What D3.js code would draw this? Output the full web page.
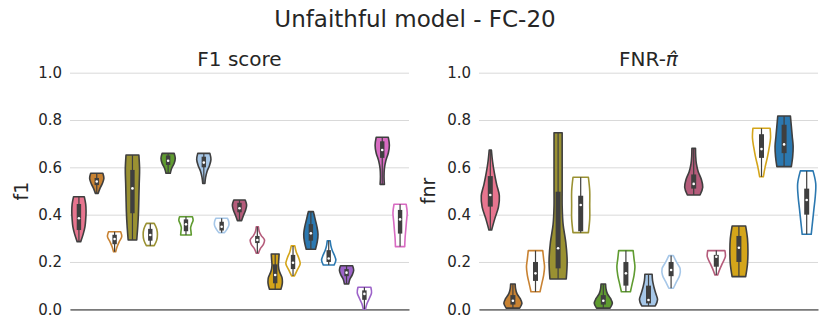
<!DOCTYPE html>
<html>
<head>
<meta charset="utf-8">
<script src="https://cdn.jsdelivr.net/npm/d3@7"></script>
<style>
  html, body { margin: 0; padding: 0; background: #ffffff; }
  svg { display: block; font-family: "DejaVu Sans", sans-serif; }
</style>
</head>
<body>
<svg id="chart" width="830" height="332"></svg>
<script>
// ---------------- DATA ----------------
const yTicks = [0.0, 0.2, 0.4, 0.6, 0.8, 1.0];

const paletteNames = ["pink","orange","olive","green","lightblue","rose","gold","blue","purple","magenta"];
const paletteColors = ["#e7758f","#c88232","#9a9132","#5f9b30","#a6c7e8","#b55c7b","#d4a51a","#2b78b0","#9d63c9","#d86bc2"];

// F1 panel
const f1Names   = ["m01","m02","m03","m04","m05","m06","m07","m08","m09","m10","m11","m12","m13","m14","m15","m16","m17","m18","m19"];
const f1Colors  = ["pink","orange","orange","olive","olive","green","green","lightblue","lightblue","rose","rose","gold","gold","blue","blue","purple","purple","magenta","magenta"];
const f1Filled  = [1,1,0,1,0,1,0,1,0,1,0,1,0,1,0,1,0,1,0];
const f1Min     = [0.286,0.490,0.243,0.293,0.269,0.575,0.314,0.532,0.324,0.375,0.237,0.085,0.141,0.254,0.187,0.107,0.000,0.528,0.265];
const f1Q1      = [0.335,0.525,0.275,0.406,0.290,0.610,0.330,0.600,0.333,0.410,0.280,0.110,0.170,0.290,0.200,0.140,0.040,0.640,0.320];
const f1Median  = [0.385,0.540,0.297,0.511,0.314,0.628,0.359,0.620,0.349,0.427,0.293,0.145,0.197,0.321,0.215,0.155,0.065,0.673,0.380];
const f1Q3      = [0.445,0.555,0.315,0.589,0.340,0.650,0.380,0.645,0.370,0.450,0.310,0.190,0.230,0.360,0.250,0.170,0.080,0.710,0.420];
const f1Max     = [0.476,0.575,0.328,0.652,0.363,0.659,0.391,0.659,0.385,0.462,0.349,0.234,0.268,0.413,0.290,0.184,0.093,0.727,0.444];
// relative half-widths from the bottom (min) to the top (max) of each violin
const f1Shapes  = [
  [0.25,0.6,0.85,0.95,1.0,0.95,0.75],
  [0.2,0.45,0.8,1.0,0.85],
  [0.15,0.35,0.65,1.0,0.85],
  [0.6,0.75,0.85,0.9,0.95,1.0,0.9],
  [0.55,0.9,1.0,0.9,0.55],
  [0.3,0.5,0.85,1.0,0.85],
  [0.75,0.7,0.65,0.8,1.0,0.9],
  [0.15,0.25,0.45,0.8,1.0,0.85],
  [0.4,0.75,1.0,1.0,0.8],
  [0.3,0.55,0.85,1.0,0.8],
  [0.15,0.4,0.85,1.0,0.55,0.25,0.15],
  [0.8,1.0,0.95,0.6,0.45,0.5,0.55],
  [0.2,0.6,1.0,0.8,0.45,0.25],
  [0.65,0.9,1.0,0.85,0.6,0.35],
  [0.75,1.0,0.8,0.5,0.3,0.2],
  [0.3,0.45,0.8,1.0,0.85],
  [0.15,0.35,0.7,1.0,0.9],
  [0.3,0.25,0.3,0.5,0.85,1.0,0.85],
  [0.65,0.7,0.8,0.9,1.0,0.85]
];

// FNR panel
const fnrNames  = ["m01","m02","m03","m04","m05","m06","m07","m08","m09","m10","m11","m12","m13","m14","m15"];
const fnrColors = ["pink","orange","orange","olive","olive","green","green","lightblue","lightblue","rose","rose","gold","gold","blue","blue"];
const fnrFilled = [1,1,0,1,0,1,0,1,0,1,0,1,0,1,0];
const fnrMin    = [0.335,0.005,0.074,0.128,0.324,0.005,0.074,0.014,0.089,0.483,0.145,0.138,0.560,0.603,0.317];
const fnrQ1     = [0.434,0.020,0.120,0.173,0.330,0.020,0.100,0.025,0.140,0.510,0.180,0.200,0.640,0.660,0.400];
const fnrMedian = [0.483,0.036,0.152,0.258,0.441,0.036,0.152,0.039,0.166,0.530,0.222,0.260,0.677,0.697,0.462];
const fnrQ3     = [0.563,0.060,0.200,0.497,0.480,0.060,0.200,0.100,0.200,0.570,0.230,0.310,0.740,0.780,0.510];
const fnrMax    = [0.673,0.107,0.248,0.746,0.558,0.107,0.248,0.148,0.227,0.680,0.248,0.352,0.765,0.817,0.585];
const fnrShapes = [
  [0.15,0.5,0.9,1.0,0.7,0.45,0.25,0.12],
  [0.75,1.0,0.8,0.45,0.3,0.25],
  [0.5,0.7,0.9,1.0,0.9,0.8],
  [0.9,1.0,0.85,0.55,0.45,0.45,0.45,0.45,0.45],
  [0.85,1.0,1.0,1.0,0.85],
  [0.75,1.0,0.8,0.45,0.3,0.25],
  [0.5,0.7,0.9,1.0,0.9,0.8],
  [0.75,1.0,0.8,0.6,0.45,0.4],
  [0.25,0.6,0.95,1.0,0.6,0.25],
  [0.7,1.0,0.85,0.5,0.3,0.22,0.2],
  [0.15,0.4,0.7,1.0,0.95],
  [0.75,0.95,1.0,0.95,0.75],
  [0.2,0.4,0.65,0.85,1.0,0.95],
  [0.8,0.95,1.0,0.9,0.8,0.7],
  [0.5,0.65,0.8,0.95,1.0,0.7]
];

// ---------------- DRAW ----------------
const svg = d3.select("#chart");
const textColor = "#262626";
const darkLine = "#3f3f3f";
const colorScale = d3.scaleOrdinal().domain(paletteNames).range(paletteColors);

svg.append("rect").attr("width", 830).attr("height", 332).attr("fill", "#ffffff");

svg.append("text")
  .attr("x", 415).attr("y", 27)
  .attr("text-anchor", "middle")
  .attr("font-size", 23).attr("fill", textColor)
  .text("Unfaithful model - FC-20");

const yScale = d3.scaleLinear().domain([0, 1]).range([309.3, 72.7]);

function drawPanel(cfg) {
  const g = svg.append("g");
  const x = d3.scaleBand().domain(cfg.names).range(cfg.xRange).paddingInner(0).paddingOuter(0);
  const left = cfg.xRange[0], right = cfg.xRange[1];

  // grid + y tick labels
  const yAxis = d3.axisLeft(yScale)
    .tickValues(yTicks)
    .tickFormat(d3.format(".1f"))
    .tickSize(-(right - left))
    .tickPadding(8);
  const ya = g.append("g").attr("transform", `translate(${left},0)`).call(yAxis);
  ya.select(".domain").remove();
  ya.selectAll(".tick line").attr("stroke", "#d9d9d9").attr("stroke-width", 1);
  ya.selectAll(".tick text").attr("fill", textColor).attr("font-size", 15)
    .attr("font-family", "DejaVu Sans, sans-serif");

  // bottom axis line
  const xa = g.append("g").attr("transform", `translate(0,${yScale(0)})`)
    .call(d3.axisBottom(x).tickSize(0).tickSizeOuter(0).tickFormat(""));
  xa.select(".domain").attr("stroke", "#7a7a7a").attr("stroke-width", 1.7);
  xa.selectAll(".tick").remove();

  // panel title
  const t = g.append("text")
    .attr("x", (left + right) / 2).attr("y", 66)
    .attr("text-anchor", "middle")
    .attr("font-size", 20).attr("fill", textColor);
  cfg.title(t);

  // y label
  g.append("text")
    .attr("transform", `translate(${cfg.yLabelX},${yScale(0.5)}) rotate(-90)`)
    .attr("text-anchor", "middle")
    .attr("font-size", 19).attr("fill", textColor)
    .text(cfg.yLabel);

  const halfMax = x.bandwidth() * 0.4;
  const boxHalf = cfg.boxHalf;

  cfg.names.forEach((name, i) => {
    const cx = x(name) + x.bandwidth() / 2;
    const mn = cfg.min[i], mx = cfg.max[i];
    const shape = cfg.shapes[i];
    const pts = shape.map((w, k) => ({ v: mn + (mx - mn) * k / (shape.length - 1), w }));
    const area = d3.area()
      .y(d => yScale(d.v))
      .x0(d => cx - d.w * halfMax)
      .x1(d => cx + d.w * halfMax)
      .curve(d3.curveCatmullRom.alpha(0.5));
    const col = colorScale(cfg.colors[i]);
    const filled = cfg.filled[i] === 1;
    g.append("path")
      .attr("d", area(pts))
      .attr("fill", filled ? col : "#ffffff")
      .attr("stroke", filled ? darkLine : col)
      .attr("stroke-width", 1.6)
      .attr("stroke-linejoin", "round");

    // whisker
    g.append("line")
      .attr("x1", cx).attr("x2", cx)
      .attr("y1", yScale(mn)).attr("y2", yScale(mx))
      .attr("stroke", darkLine).attr("stroke-width", 1.2);
    // box
    g.append("rect")
      .attr("x", cx - boxHalf).attr("width", boxHalf * 2)
      .attr("y", yScale(cfg.q3[i]))
      .attr("height", yScale(cfg.q1[i]) - yScale(cfg.q3[i]))
      .attr("fill", darkLine);
    // median
    g.append("circle")
      .attr("cx", cx).attr("cy", yScale(cfg.median[i]))
      .attr("r", 1.3).attr("fill", "#ffffff");
  });
}

drawPanel({
  names: f1Names, colors: f1Colors, filled: f1Filled,
  min: f1Min, q1: f1Q1, median: f1Median, q3: f1Q3, max: f1Max, shapes: f1Shapes,
  xRange: [70, 409], yLabel: "f1", yLabelX: 28, boxHalf: 2.2,
  title: t => t.text("F1 score")
});

drawPanel({
  names: fnrNames, colors: fnrColors, filled: fnrFilled,
  min: fnrMin, q1: fnrQ1, median: fnrMedian, q3: fnrQ3, max: fnrMax, shapes: fnrShapes,
  xRange: [479, 818], yLabel: "fnr", yLabelX: 435, boxHalf: 2.5,
  title: t => { t.append("tspan").text("FNR-"); t.append("tspan").attr("font-style", "italic").text("\u03C0\u0302"); }
});
</script>
</body>
</html>
